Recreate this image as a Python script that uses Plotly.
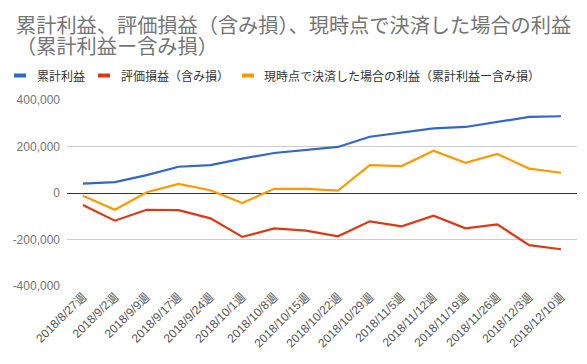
import plotly.graph_objects as go

weeks = ["2018/8/27週", "2018/9/2週", "2018/9/9週", "2018/9/17週", "2018/9/24週",
         "2018/10/1週", "2018/10/8週", "2018/10/15週", "2018/10/22週", "2018/10/29週",
         "2018/11/5週", "2018/11/12週", "2018/11/19週", "2018/11/26週", "2018/12/3週",
         "2018/12/10週"]
cumulative = [40000, 47000, 77000, 113000, 120000, 148000, 172000, 185000, 198000,
              242000, 261000, 278000, 284000, 304000, 327000, 330000]
unrealized = [-52000, -119000, -72000, -74000, -109000, -189000, -152000, -162000, -186000,
              -122000, -143000, -98000, -152000, -135000, -224000, -242000]
settled = [-12000, -72000, 3000, 39000, 12000, -43000, 18000, 18000, 10000,
           120000, 116000, 182000, 130000, 168000, 105000, 87000]
names = ["累計利益", "評価損益（含み損）", "現時点で決済した場合の利益（累計利益ー含み損）"]
colors = ["#3366cc", "#dc3912", "#ff9900"]
yticks = [-400000, -200000, 0, 200000, 400000]
title_lines = ["累計利益、評価損益（含み損）、現時点で決済した場合の利益", "（累計利益ー含み損）"]

FONT = "Noto Sans CJK JP, Liberation Sans, Arial, sans-serif"
W, H = 587, 364
L, R, T, B = 67, 10, 100, 78
PW, PH = W - L - R, H - T - B


def px_x(px):
    return (px - L) / PW


def px_y(py):
    return (H - B - py) / PH


fig = go.Figure()
for name, vals, col in zip(names, [cumulative, unrealized, settled], colors):
    fig.add_trace(go.Scatter(x=weeks, y=vals, name=name, mode="lines",
                             line=dict(color=col, width=2.2), showlegend=False))

# title (two lines, tight line spacing like the reference)
for line, cy in zip(title_lines, [25, 45.5]):
    fig.add_annotation(text=line, xref="paper", yref="paper",
                       x=px_x(14), xanchor="left", y=px_y(cy), yanchor="middle",
                       showarrow=False, font=dict(size=20.2, color="#757575", family=FONT))

# legend
swatch_x = [14, 98, 242]
text_x = [35, 119, 262]
for name, col, sx, tx in zip(names, colors, swatch_x, text_x):
    fig.add_shape(type="rect", xref="paper", yref="paper",
                  x0=px_x(sx), x1=px_x(sx + 12), y0=px_y(77.5), y1=px_y(73.5),
                  fillcolor=col, line=dict(width=0))
    fig.add_annotation(text=name, xref="paper", yref="paper",
                       x=px_x(tx), xanchor="left", y=px_y(75.5), yanchor="middle",
                       showarrow=False, font=dict(size=12, color="#333333", family=FONT))

fig.update_layout(
    width=W, height=H,
    margin=dict(l=L, r=R, t=T, b=B, autoexpand=False),
    paper_bgcolor="white", plot_bgcolor="white",
    font=dict(family=FONT, color="#757575", size=12),
    showlegend=False,
)
fig.update_xaxes(type="category", range=[-0.5, len(weeks) - 0.5], tickangle=-45,
                 showgrid=False, showline=False, ticks="", automargin=False,
                 tickfont=dict(family="Liberation Sans, Arial, sans-serif", size=12, color="#555555"))
fig.update_yaxes(range=[-400000, 400000], tickvals=yticks,
                 ticktext=[f"{v:,}" for v in yticks], automargin=False,
                 showgrid=True, gridcolor="#cccccc", gridwidth=1,
                 zeroline=True, zerolinecolor="#333333", zerolinewidth=1,
                 ticks="", ticklabelstandoff=6,
                 tickfont=dict(family="Liberation Sans, Arial, sans-serif", size=12, color="#757575"))

fig.write_html("out.html", config={"displayModeBar": False},
               post_script="document.body.style.margin='0';")
